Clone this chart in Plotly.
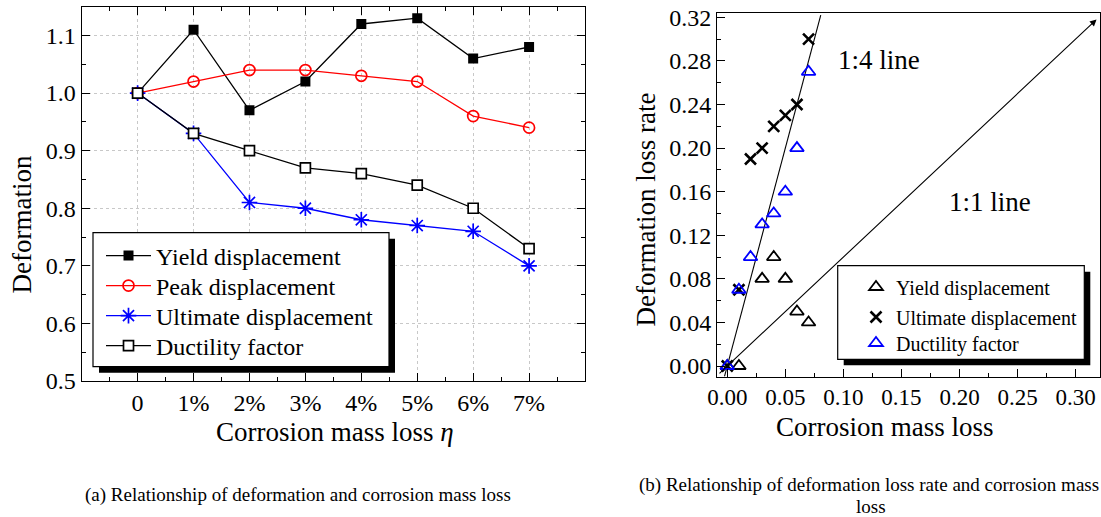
import plotly.graph_objects as go

W, H = 1101, 517
FONT = "Liberation Serif, Times New Roman, serif"

# ---------------- (a) deformation vs corrosion mass loss ----------------
loss_levels = [0, 1, 2, 3, 4, 5, 6, 7]
loss_labels = ["0", "1%", "2%", "3%", "4%", "5%", "6%", "7%"]
yield_disp = [1.00, 1.11, 0.97, 1.02, 1.12, 1.13, 1.06, 1.08]
peak_disp = [1.00, 1.02, 1.04, 1.04, 1.03, 1.02, 0.96, 0.94]
ultimate_disp = [1.00, 0.93, 0.81, 0.80, 0.78, 0.77, 0.76, 0.70]
ductility = [1.00, 0.93, 0.90, 0.87, 0.86, 0.84, 0.80, 0.73]

# ---------------- (b) deformation loss rate vs corrosion mass loss ----------------
yield_mass = [0.00, 0.01, 0.03, 0.04, 0.05, 0.06, 0.07]
yield_rate = [0.00, 0.00, 0.08, 0.10, 0.08, 0.05, 0.04]
ult_mass = [0.00, 0.01, 0.02, 0.03, 0.04, 0.05, 0.06, 0.07]
ult_rate = [0.00, 0.07, 0.19, 0.20, 0.22, 0.23, 0.24, 0.30]
duct_mass = [0.00, 0.01, 0.02, 0.03, 0.04, 0.05, 0.06, 0.07]
duct_rate = [0.00, 0.07, 0.10, 0.13, 0.14, 0.16, 0.20, 0.27]

# reference lines: rate = 4 * mass and rate = mass
ratio_steep = 4.0
steep_x = [-0.0024, 0.0805]
unit_x = [-0.008, 0.318]


def px(x):
    return x / W


def py(y):
    return 1 - y / H


fig = go.Figure()

# left panel traces, each in its own legend row
fig.add_trace(go.Scatter(
    x=loss_levels, y=yield_disp, name="Yield displacement", mode="lines+markers",
    line=dict(color="black", width=1.3),
    marker=dict(symbol="square", size=10, color="black"),
    legend="legend"))
fig.add_trace(go.Scatter(
    x=loss_levels, y=peak_disp, name="Peak displacement", mode="lines+markers",
    line=dict(color="#ff0000", width=1.3),
    marker=dict(symbol="circle-open", size=11, color="#ff0000", line=dict(width=1.7)),
    legend="legend2"))
fig.add_trace(go.Scatter(
    x=loss_levels, y=ultimate_disp, name="Ultimate displacement", mode="lines+markers",
    line=dict(color="#0000ff", width=1.3),
    marker=dict(symbol="asterisk-open", size=13, color="#0000ff", line=dict(width=1.7, color="#0000ff")),
    legend="legend3"))
fig.add_trace(go.Scatter(
    x=loss_levels, y=ductility, name="Ductility factor", mode="lines+markers",
    line=dict(color="black", width=1.3),
    marker=dict(symbol="square", size=10, color="white", line=dict(width=1.7, color="black")),
    legend="legend4"))

# right panel: steep reference line
fig.add_trace(go.Scatter(
    x=steep_x, y=[ratio_steep * v for v in steep_x], mode="lines",
    line=dict(color="black", width=1.1), showlegend=False, hoverinfo="skip",
    xaxis="x2", yaxis="y2"))

# right panel markers
fig.add_trace(go.Scatter(
    x=yield_mass, y=yield_rate, name="Yield displacement", mode="markers",
    marker=dict(symbol="triangle-up-open", size=12, color="black", line=dict(width=1.8)),
    xaxis="x2", yaxis="y2", legend="legend5"))
fig.add_trace(go.Scatter(
    x=ult_mass, y=ult_rate, name="Ultimate displacement", mode="markers",
    marker=dict(symbol="x-thin-open", size=11, color="black", line=dict(width=2.6, color="black")),
    xaxis="x2", yaxis="y2", legend="legend6"))
fig.add_trace(go.Scatter(
    x=duct_mass, y=duct_rate, name="Ductility factor", mode="markers",
    marker=dict(symbol="triangle-up-open", size=12, color="#0000ff", line=dict(width=1.8)),
    xaxis="x2", yaxis="y2", legend="legend7"))

axis_common = dict(
    showline=True, linecolor="black", linewidth=1.3,
    ticks="inside", tickcolor="black", tickwidth=1.3,
    tickfont=dict(family=FONT, size=24, color="black"),
    zeroline=False, automargin=False,
)


def legend_row(x, y, size, itemwidth):
    return dict(x=px(x), y=py(y), xanchor="left", yanchor="middle",
                bgcolor="rgba(0,0,0,0)", borderwidth=0, itemwidth=itemwidth,
                font=dict(family=FONT, size=size, color="black"))


fig.update_layout(
    width=W, height=H,
    margin=dict(l=0, r=0, t=0, b=0, pad=0, autoexpand=False),
    paper_bgcolor="white", plot_bgcolor="white",
    font=dict(family=FONT, color="black"),
    xaxis=dict(
        axis_common, domain=[px(81.7), px(585)], range=[-1, 8],
        tickmode="array", tickvals=loss_levels, ticktext=loss_labels, ticklen=8,
        mirror="ticks", showgrid=True, gridcolor="#c8c8c8", griddash="dot", gridwidth=1,
        minor=dict(tickmode="array", tickvals=[v + 0.5 for v in [-1] + loss_levels],
                   ticks="inside", ticklen=4, tickcolor="black", tickwidth=1.3, showgrid=False),
        anchor="y",
    ),
    yaxis=dict(
        axis_common, domain=[py(381), py(6.7)], range=[0.5, 1.15],
        tick0=0.5, dtick=0.1, tickformat=".1f", ticklen=8,
        mirror="ticks", showgrid=True, gridcolor="#c8c8c8", griddash="dot", gridwidth=1,
        minor=dict(tick0=0.5, dtick=0.05, ticks="inside", ticklen=4, tickcolor="black",
                   tickwidth=1.3, showgrid=False),
        anchor="x",
    ),
    xaxis2=dict(
        axis_common, domain=[px(717.3), px(1100)], range=[-0.0086, 0.321],
        tick0=0, dtick=0.05, tickformat=".2f", ticklen=8, mirror=True, showgrid=False,
        tickfont=dict(family=FONT, size=23, color="black"),
        minor=dict(tick0=0, dtick=0.025, ticks="inside", ticklen=4, tickcolor="black",
                   tickwidth=1.3, showgrid=False),
        anchor="y2",
    ),
    yaxis2=dict(
        axis_common, domain=[py(376.7), py(13.3)], range=[-0.0098, 0.3237],
        tick0=0, dtick=0.04, tickformat=".2f", ticklen=8, mirror=True, showgrid=False,
        minor=dict(tick0=0, dtick=0.02, ticks="inside", ticklen=4, tickcolor="black",
                   tickwidth=1.3, showgrid=False),
        anchor="x2",
    ),
    legend=legend_row(101, 256, 24, 45),
    legend2=legend_row(101, 286, 24, 45),
    legend3=legend_row(101, 316, 24, 45),
    legend4=legend_row(101, 346, 24, 45),
    legend5=legend_row(856, 287, 20, 30),
    legend6=legend_row(856, 317, 20, 30),
    legend7=legend_row(856, 343, 20, 30),
    showlegend=True,
)

# legend frames with drop shadows
shapes = []
for (x0, y0, x1, y1) in [(93, 232.7, 389, 366.7), (837.7, 265.7, 1084.3, 359.3)]:
    shapes.append(dict(type="rect", xref="paper", yref="paper",
                       x0=px(x0 + 6), x1=px(x1 + 6), y0=py(y1 + 6), y1=py(y0 + 6),
                       fillcolor="black", line=dict(width=0), layer="above"))
    shapes.append(dict(type="rect", xref="paper", yref="paper",
                       x0=px(x0), x1=px(x1), y0=py(y1), y1=py(y0),
                       fillcolor="white", line=dict(color="black", width=1.2), layer="above"))
fig.update_layout(shapes=shapes)

ann = []


def label(text, x, y, size, angle=0, xref="paper", yref="paper"):
    ann.append(dict(text=text, x=x, y=y, xref=xref, yref=yref, showarrow=False,
                    xanchor="center", yanchor="middle", textangle=angle,
                    font=dict(family=FONT, size=size, color="black")))


# axis titles
label("Deformation", px(21), py(224.5), 27, angle=-90)
label("Corrosion mass loss <i>η</i>", px(335), py(432), 27)
label("Deformation loss rate", px(645.5), py(210), 27, angle=-90)
label("Corrosion mass loss", px(884.5), py(427), 27)

# line labels
label("1:4 line", 0.1305, 0.2807, 27, xref="x2", yref="y2")
label("1:1 line", 0.2266, 0.1507, 27, xref="x2", yref="y2")

# captions
label("(a) Relationship of deformation and corrosion mass loss", px(298.3), py(495), 19)
label("(b) Relationship of deformation loss rate and corrosion mass", px(869), py(485), 19)
label("loss", px(871), py(506.5), 19)

# 1:1 line drawn as an arrow
ann.append(dict(x=unit_x[1], y=unit_x[1], ax=unit_x[0], ay=unit_x[0],
                xref="x2", yref="y2", axref="x2", ayref="y2", text="",
                showarrow=True, arrowhead=2, arrowsize=1.2, arrowwidth=1.1,
                arrowcolor="black", standoff=0, startstandoff=0))
fig.update_layout(annotations=ann)

fig.write_html("out.html")
